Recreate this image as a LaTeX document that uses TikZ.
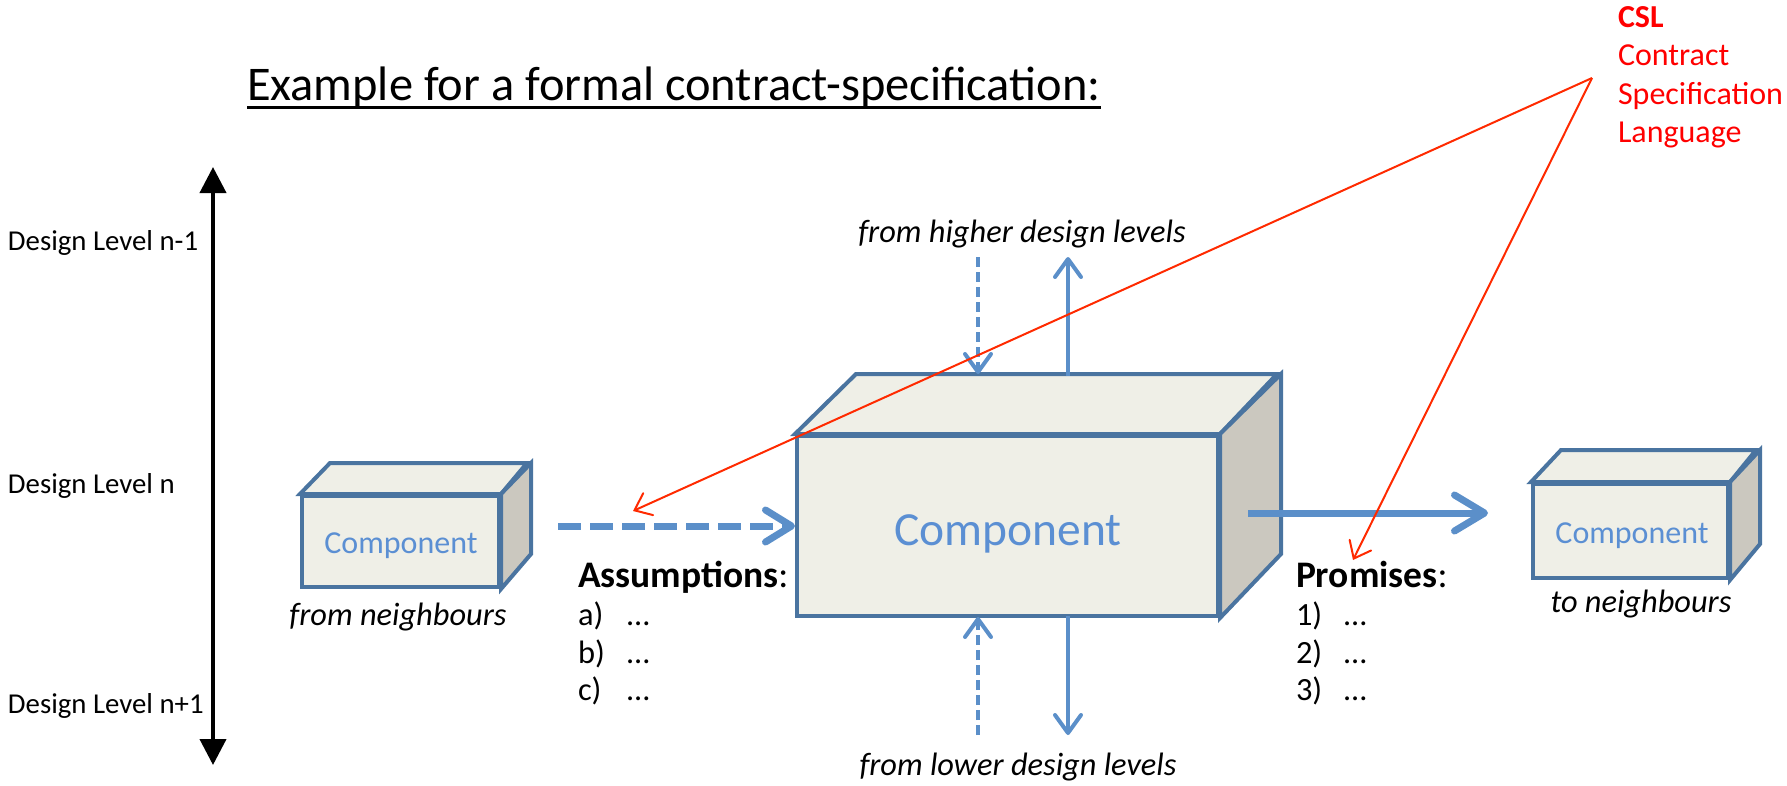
\documentclass[tikz,border=0pt]{standalone}
\usepackage{fontspec}
\setmainfont{Carlito}
\usetikzlibrary{arrows.meta}
\definecolor{boxline}{HTML}{4A74A0}
\definecolor{frontfill}{HTML}{EFEFE7}
\definecolor{sidefill}{HTML}{CBC8BF}
\definecolor{arrowblue}{HTML}{5B8FC9}
\definecolor{compblue}{HTML}{5B8FD3}
\definecolor{cslred}{HTML}{FF2A00}
\definecolor{textred}{HTML}{FF0000}
\begin{document}
\begin{tikzpicture}[x=1pt,y=-1pt,
  front/.style={draw=boxline, line width=4pt, fill=frontfill, inner sep=0pt},
  face/.style={draw=boxline, line width=4pt},
  txt/.style={inner sep=0pt, outer sep=0pt},
  comptext/.style={txt, anchor=base, text=compblue},
  dltext/.style={txt, anchor=base west, font=\fontsize{28.8}{34}\selectfont},
  itext/.style={txt, anchor=base, font=\fontsize{32.4}{39}\selectfont\itshape},
  listtext/.style={txt, anchor=base west, font=\fontsize{32.4}{39}\selectfont},
  headtext/.style={txt, anchor=base west, font=\fontsize{37.5}{45}\selectfont},
  csltext/.style={txt, anchor=base west, text=textred, font=\fontsize{32}{38}\selectfont},
  vsolid/.style={draw=arrowblue, line width=4pt, -{Straight Barb[length=18pt,width=26pt,line cap=round,line join=round]}},
  vdash/.style={vsolid, dash pattern=on 10pt off 5pt},
  redarrow/.style={draw=cslred, line width=2pt, -{Straight Barb[length=15pt,width=24pt,line cap=round]}},
]
\useasboundingbox (0,0) rectangle (1787,785);

% ---------- title ----------
\node[txt, anchor=base west, font=\fontsize{48.4}{58}\selectfont] (title) at (247,100) {Example for a formal contract-specification:};
\draw[line width=2.6pt] ([yshift=-7.5pt]title.base west) -- ([yshift=-7.5pt]title.base east);

% ---------- design level axis ----------
\coordinate (axtop) at (213,167);
\coordinate (axbot) at (213,765);
\draw[line width=4pt, {Triangle[length=26pt,width=26pt]}-{Triangle[length=26pt,width=26pt]}] (axtop) -- (axbot);
\node[dltext] (dl1) at (8,250) {Design Level n-1};
\node[dltext] (dl2) at (8,493) {Design Level n};
\node[dltext] (dl3) at (8,713) {Design Level n+1};

% ---------- main component ----------
\node[front, minimum width=421pt, minimum height=180pt] (main) at (1007.5,526) {};
\draw[face, fill=frontfill] (main.north west) -- ++(61,-60) -- ++(421,0) -- (main.north east) -- cycle;
\draw[face, fill=sidefill] (main.north east) -- ++(61,-60) -- ++(0,180) -- (main.south east) -- cycle;
\node[comptext, font=\fontsize{47.5}{57}\selectfont] (maintext) at (1008,545) {Component};

% ---------- left component ----------
\node[front, minimum width=197pt, minimum height=91pt] (left) at (400.5,541.5) {};
\draw[face, fill=frontfill] (left.north west) -- ++(30,-31) -- ++(197,0) -- (left.north east) -- cycle;
\draw[face, fill=sidefill] (left.north east) -- ++(30,-31) -- ++(0,91) -- (left.south east) -- cycle;
\node[comptext, font=\fontsize{32}{38}\selectfont] (lefttext) at (401,553) {Component};
\node[itext] (fromnb) at (398,625) {from neighbours};

% ---------- right component ----------
\node[front, minimum width=195pt, minimum height=94pt] (right) at (1630.5,531) {};
\draw[face, fill=frontfill] (right.north west) -- ++(30,-32) -- ++(195,0) -- (right.north east) -- cycle;
\draw[face, fill=sidefill] (right.north east) -- ++(30,-32) -- ++(0,94) -- (right.south east) -- cycle;
\node[comptext, font=\fontsize{32}{38}\selectfont] (righttext) at (1632,543) {Component};
\node[itext] (tonb) at (1641,612) {to neighbours};

% ---------- vertical arrows ----------
\node[itext] (higher) at (1022,242) {from higher design levels};
\node[itext] (lower) at (1018,775) {from lower design levels};
\coordinate (hdstart) at (978,257);
\coordinate (hdend) at (978,374);
\coordinate (husstart) at (1068,376);
\coordinate (husend) at (1068,257);
\coordinate (ldstart) at (978,735);
\coordinate (ldend) at (978,617);
\coordinate (lsstart) at (1068,616);
\coordinate (lsend) at (1068,735);
\draw[vdash] (hdstart) -- (hdend);
\draw[vsolid] (husstart) -- (husend);
\draw[vdash] (ldstart) -- (ldend);
\draw[vsolid] (lsstart) -- (lsend);

% ---------- horizontal arrows ----------
\coordinate (assstart) at (558,526);
\draw[draw=arrowblue, line width=7pt, dash pattern=on 23pt off 9pt,
  -{Straight Barb[length=26pt,width=32pt,line cap=round,line join=round]}] (assstart) -- (main.west);
\coordinate (promstart) at (1248,513);
\coordinate (promend) at (1488,513);
\draw[draw=arrowblue, line width=7pt,
  -{Straight Barb[length=30pt,width=36pt,line cap=round,line join=round]}] (promstart) -- (promend);

% ---------- assumptions / promises ----------
\node[headtext] (ass) at (578,587) {\textbf{Assumptions}:};
\node[headtext] (prom) at (1296,587) {\textbf{Promises}:};
\foreach \lab/\y in {a)/625, b)/663, c)/700} {
  \node[listtext] at (578,\y) {\lab};
  \node[listtext] at (627,\y) {…};
}
\foreach \lab/\y in {1)/625, 2)/663, 3)/700} {
  \node[listtext] at (1296,\y) {\lab};
  \node[listtext] at (1344,\y) {…};
}

% ---------- CSL ----------
\node[csltext] (csl1) at (1618,27) {\textbf{CSL}};
\node[csltext] (csl2) at (1618,65) {Contract};
\node[csltext] (csl3) at (1618,104) {Specification};
\node[csltext] (csl4) at (1618,142) {Language};
\coordinate (cslpt) at (1592,78);
\coordinate (asstip) at (633,511);
\coordinate (promtip) at (1353,560);
\draw[redarrow] (cslpt) -- (asstip);
\draw[redarrow] (cslpt) -- (promtip);
\end{tikzpicture}
\end{document}
